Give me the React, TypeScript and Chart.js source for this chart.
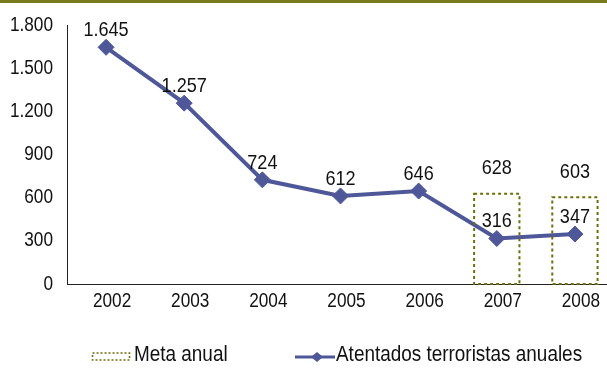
import React, { useEffect, useRef } from "react";
import { Chart, registerables } from "chart.js";

Chart.register(...registerables);

const years = ["2002", "2003", "2004", "2005", "2006", "2007", "2008"];
const atentados = [1645, 1257, 724, 612, 646, 316, 347];
const meta = [null, null, null, null, null, 628, 603];
const yTicks = [0, 300, 600, 900, 1200, 1500, 1800];

const OLIVE = "#6e6e08";
const LINE = "#4e5899";
const TEXT = "#111";
const FONT = "'Liberation Sans', Arial, sans-serif";
const NARROW = 0.86;

function fmt(n: number): string {
  return String(n).replace(/\B(?=(\d{3})+(?!\d))/g, ".");
}

function narrowText(ctx: CanvasRenderingContext2D, text: string, x: number, y: number, align: CanvasTextAlign, size: number) {
  ctx.save();
  ctx.translate(x, y);
  ctx.scale(NARROW, 1);
  ctx.font = `${size}px ${FONT}`;
  ctx.fillStyle = TEXT;
  ctx.textAlign = align;
  ctx.textBaseline = "middle";
  ctx.fillText(text, 0, 0);
  ctx.restore();
}

const overlay = {
  id: "overlay",
  afterDatasetsDraw(chart: any) {
    const ctx = chart.ctx;
    ctx.save();
    const barMeta = chart.getDatasetMeta(0);
    ctx.strokeStyle = OLIVE;
    ctx.lineWidth = 2;
    ctx.setLineDash([3, 3]);
    barMeta.data.forEach((el: any, i: number) => {
      const v = meta[i];
      if (v == null) return;
      const p = el.getProps(["x", "y", "base", "width"], true);
      ctx.strokeRect(p.x - p.width / 2, p.y, p.width, p.base - p.y);
    });
    ctx.setLineDash([]);
    ctx.restore();
    barMeta.data.forEach((el: any, i: number) => {
      const v = meta[i];
      if (v == null) return;
      const p = el.getProps(["x", "y"], true);
      narrowText(ctx, fmt(v), p.x, p.y - 25, "center", 21);
    });
    const lineMeta = chart.getDatasetMeta(1);
    lineMeta.data.forEach((el: any, i: number) => {
      const p = el.getProps(["x", "y"], true);
      narrowText(ctx, fmt(atentados[i]), p.x, p.y - 17, "center", 21);
    });
  },
  afterDraw(chart: any) {
    const ctx = chart.ctx;
    const xs = chart.scales.x;
    const ys = chart.scales.y;
    yTicks.forEach((v) => {
      narrowText(ctx, fmt(v), 53, ys.getPixelForValue(v), "right", 20);
    });
    years.forEach((lab, i) => {
      narrowText(ctx, lab, xs.getPixelForValue(i) + 6, ys.bottom + 17, "center", 20);
    });
    const y = 356;
    ctx.save();
    ctx.strokeStyle = OLIVE;
    ctx.lineWidth = 1.5;
    ctx.setLineDash([2, 2]);
    ctx.strokeRect(92.5, y - 3, 37, 7);
    ctx.setLineDash([]);
    ctx.strokeStyle = LINE;
    ctx.lineWidth = 3;
    ctx.beginPath();
    ctx.moveTo(295, y + 1);
    ctx.lineTo(335, y + 1);
    ctx.stroke();
    ctx.fillStyle = LINE;
    ctx.beginPath();
    ctx.moveTo(317, y - 4);
    ctx.lineTo(323, y + 1);
    ctx.lineTo(317, y + 6);
    ctx.lineTo(311, y + 1);
    ctx.closePath();
    ctx.fill();
    ctx.restore();
    narrowText(ctx, "Meta anual", 134, y - 1, "left", 22);
    narrowText(ctx, "Atentados terroristas anuales", 336, y - 1, "left", 22);
  },
};

export default function App() {
  const ref = useRef<HTMLCanvasElement | null>(null);
  useEffect(() => {
    if (!ref.current) return;
    const chart = new Chart(ref.current, {
      type: "bar",
      data: {
        labels: years,
        datasets: [
          {
            type: "bar",
            label: "Meta anual",
            data: meta as any,
            backgroundColor: "rgba(0,0,0,0)",
            borderWidth: 0,
            barPercentage: 0.58,
            categoryPercentage: 1,
            order: 2,
          },
          {
            type: "line",
            label: "Atentados terroristas anuales",
            data: atentados,
            borderColor: LINE,
            backgroundColor: LINE,
            borderWidth: 4,
            pointStyle: "rectRot",
            pointRadius: 8,
            pointBorderWidth: 1,
            pointBackgroundColor: LINE,
            pointBorderColor: LINE,
            tension: 0,
            clip: false,
            order: 1,
          },
        ],
      },
      options: {
        animation: false,
        responsive: false,
        maintainAspectRatio: false,
        layout: { autoPadding: false, padding: { top: 25, right: 0, bottom: 0, left: 0 } },
        plugins: {
          legend: { display: false },
          tooltip: { enabled: false },
        },
        scales: {
          x: {
            afterFit: (s: any) => {
              s.height = 84;
            },
            grid: { display: false, drawTicks: false },
            border: { display: true, color: "#222", width: 1 },
            ticks: { display: false },
          },
          y: {
            min: 0,
            max: 1800,
            afterBuildTicks: (s: any) => {
              s.ticks = yTicks.map((v) => ({ value: v }));
            },
            afterFit: (s: any) => {
              s.width = 67;
            },
            grid: { display: false, drawTicks: false },
            border: { display: true, color: "#222", width: 1 },
            ticks: { display: false },
          },
        },
      },
      plugins: [overlay],
    } as any);
    return () => chart.destroy();
  }, []);
  return (
    <div
      style={{
        position: "fixed",
        left: 0,
        top: 0,
        width: 607,
        height: 368,
        overflow: "hidden",
        background: "#fff",
      }}
    >
      <div style={{ position: "absolute", left: 0, top: 0, width: 607, height: 3, background: "#7a7a1c", zIndex: 1 }} />
      <div style={{ position: "absolute", left: 0, top: 0, width: 614, height: 368 }}>
        <canvas ref={ref} width={614} height={368} style={{ width: 614, height: 368, display: "block" }} />
      </div>
    </div>
  );
}
